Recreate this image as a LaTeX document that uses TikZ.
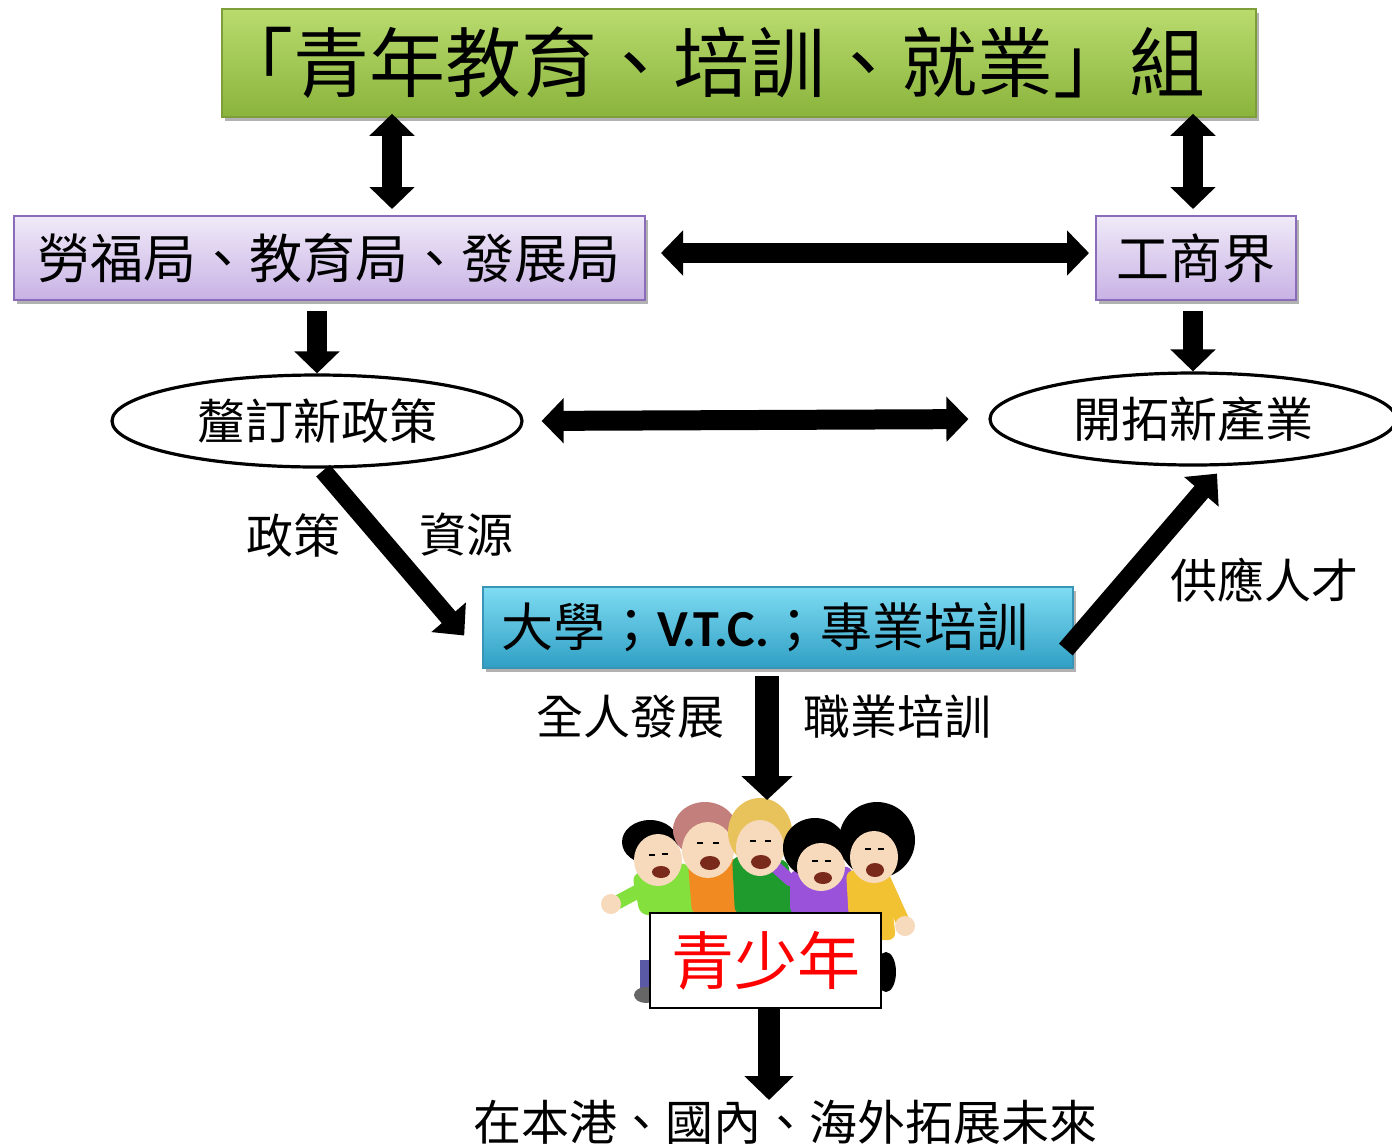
\documentclass[tikz,border=0pt]{standalone}
\usepackage{fontspec}
\setmainfont{Noto Sans CJK TC}
\newfontfamily\vtcfont{Carlito}
\usetikzlibrary{arrows.meta,shapes.geometric,shadows}
\definecolor{skin}{HTML}{F7D9BC}
\definecolor{mouthc}{HTML}{7A2A1A}
\definecolor{shirtA}{HTML}{84E03C}
\definecolor{shirtB}{HTML}{F28A22}
\definecolor{shirtC}{HTML}{1F9A2C}
\definecolor{shirtD}{HTML}{9A52DA}
\definecolor{shirtE}{HTML}{F2C232}
\definecolor{hairB}{HTML}{C27F7C}
\definecolor{hairC}{HTML}{E8C25A}
\definecolor{gtop}{HTML}{B9DB6E}
\definecolor{gbot}{HTML}{8AB43C}
\definecolor{gbord}{HTML}{7E9E3A}
\definecolor{ptop}{HTML}{F0EAF8}
\definecolor{pbot}{HTML}{C8B2E5}
\definecolor{pbord}{HTML}{8A6CB8}
\definecolor{ctop}{HTML}{7FDCF3}
\definecolor{cbot}{HTML}{2F9FC4}
\definecolor{cbord}{HTML}{3994B6}
\begin{document}
\begin{tikzpicture}[x=0.5pt,y=-0.5pt,
  fat/.style={line width=10pt,-{Triangle[width=22pt,length=11pt]}},
  fatdbl/.style={line width=10pt,{Triangle[width=22pt,length=11pt]}-{Triangle[width=22pt,length=11pt]}},
  shade/.style={drop shadow={shadow xshift=1.5pt,shadow yshift=-2pt,opacity=0.3,fill=black}},
  greenbox/.style={rectangle,draw=gbord,line width=0.8pt,top color=gtop,bottom color=gbot,shade,inner sep=0pt},
  purplebox/.style={rectangle,draw=pbord,line width=1pt,top color=ptop,bottom color=pbot,shade,inner sep=0pt},
  cyanbox/.style={rectangle,draw=cbord,line width=0.8pt,top color=ctop,bottom color=cbot,shade,inner sep=0pt},
  oval/.style={ellipse,draw=black,line width=1.6pt,fill=white,inner sep=0pt},
  lbl/.style={font=\fontsize{23.5pt}{26pt}\selectfont,inner sep=0pt}]
\useasboundingbox (0,0) rectangle (1392,1147);
\fill[white] (0,0) rectangle (1392,1147);

% ----- main nodes -----
\node[greenbox,minimum width=517pt,minimum height=54pt,font=\fontsize{38pt}{40pt}\selectfont] (top) at (739,63) {\hspace*{-28pt}「青年教育、培訓、就業」組};
\node[purplebox,minimum width=315.5pt,minimum height=42pt,font=\fontsize{26.5pt}{30pt}\selectfont] (lb) at (329.5,258) {勞福局、教育局、發展局};
\node[purplebox,minimum width=100pt,minimum height=42pt,font=\fontsize{26.5pt}{30pt}\selectfont] (rb) at (1196,258) {工商界};
\node[oval,minimum width=205pt,minimum height=46pt,font=\fontsize{24pt}{28pt}\selectfont] (le) at (317,421) {釐訂新政策};
\node[oval,minimum width=203pt,minimum height=46pt,font=\fontsize{24pt}{28pt}\selectfont] (re) at (1193,419) {開拓新產業};
\node[cyanbox,minimum width=295pt,minimum height=40.5pt,font=\fontsize{26pt}{30pt}\selectfont] (vtc) at (778,627.5) {\hspace*{-13pt}大學；{\vtcfont\bfseries V.T.C.}；專業培訓};

% ----- children picture -----
% bodies
\fill[shirtA,rounded corners=4pt] (632,874) -- (688,862) -- (700,915) -- (640,915) -- cycle;
\draw[shirtA,line width=7pt,line cap=round] (648,886) -- (618,902);
\fill[skin] (611,904) circle (5pt);
\fill[shirtB,rounded corners=4pt] (688,862) -- (738,858) -- (740,915) -- (692,915) -- cycle;
\fill[shirtC,rounded corners=4pt] (732,856) -- (788,860) -- (795,915) -- (735,915) -- cycle;
\fill[shirtD,rounded corners=4pt] (790,870) -- (852,866) -- (854,915) -- (790,915) -- cycle;
\draw[shirtD,line width=6pt,line cap=round] (790,880) -- (770,862);
\fill[shirtE,rounded corners=4pt] (846,870) -- (888,872) -- (896,940) -- (850,940) -- cycle;
\draw[shirtE,line width=7pt,line cap=round] (884,880) -- (902,920);
\fill[skin] (905,926) circle (5pt);
% legs / shoes
\fill[gray!70!blue] (640,960) rectangle (652,990);
\fill[gray!80!black] (646,995) ellipse (6pt and 4pt);
\fill[black] (886,972) ellipse (5pt and 10pt);
% heads
\fill[black] (650,842) ellipse (14pt and 11pt);
\fill[skin] (658,860) ellipse (12pt and 13pt);
\fill[hairB] (705,830) ellipse (16pt and 14pt);
\fill[skin] (708,850) ellipse (13pt and 14pt);
\fill[hairC] (760,832) ellipse (16pt and 17pt);
\fill[skin] (760,848) ellipse (12pt and 14pt);
\fill[black] (815,848) ellipse (16pt and 15pt);
\fill[skin] (821,867) ellipse (12pt and 12pt);
\fill[black] (877,840) ellipse (19pt and 19pt);
\fill[skin] (874,857) ellipse (12pt and 13pt);
% mouths
\fill[mouthc] (661,872) ellipse (4.5pt and 3pt);
\fill[mouthc] (710,863) ellipse (5pt and 3.5pt);
\fill[mouthc] (761,862) ellipse (5pt and 3.5pt);
\fill[mouthc] (823,878) ellipse (4.5pt and 3pt);
\fill[mouthc] (875,870) ellipse (4.5pt and 3.5pt);
% eyes
\foreach \ex/\ey in {652/855,665/854,700/843,716/843,753/841,768/841,815/861,828/861,868/849,881/849}
  \draw[black,line width=0.7pt] (\ex-3,\ey) -- (\ex+3,\ey);

\node[rectangle,draw=black,line width=1pt,fill=white,minimum width=115.5pt,minimum height=47.5pt,inner sep=0pt,text=red,font=\fontsize{31.5pt}{34pt}\selectfont] (qsn) at (765.5,960.5) {青少年};
\node[inner sep=0pt,font=\fontsize{24pt}{28pt}\selectfont] (bt) at (785,1122) {在本港、國內、海外拓展未來};

% ----- labels -----
\node[lbl] (l1) at (293,535) {政策};
\node[lbl] (l2) at (466,535) {資源};
\node[lbl] (l3) at (1264,580) {供應人才};
\node[lbl] (l4) at (630,717) {全人發展};
\node[lbl] (l5) at (897,717) {職業培訓};

% ----- helper coordinates -----
\coordinate (a1) at (392,0);
\coordinate (a2) at (1193,0);
\coordinate (a3) at (767,0);
\coordinate (h1) at (0,253);
\coordinate (kidtop) at (767,800);
\coordinate (a4) at (769,0);
\coordinate (endtip) at (769,1100);

% ----- arrows -----
\draw[fatdbl] ([yshift=2pt]top.south -| a1) -- ([yshift=3pt]lb.north -| a1);
\draw[fatdbl] ([yshift=2pt]top.south -| a2) -- ([yshift=3pt]rb.north -| a2);
\draw[fatdbl,shorten <=7.5pt,shorten >=3pt] (lb.east |- h1) -- (rb.west |- h1);
\draw[fat,shorten <=5pt] (lb.south -| le.north) -- (le.north);
\draw[fat,shorten <=5pt] (rb.south -| re.north) -- (re.north);
\draw[fatdbl,shorten <=9pt,shorten >=10pt] (le.east) -- (re.west);
\draw[line width=9pt,-{Triangle[width=22pt,length=12pt]}] ([shift={(6,2)}]le.south) -- ([shift={(-18,8)}]vtc.west);
\draw[line width=9pt,-{Triangle[width=22pt,length=12pt]}] ([shift={(-8,22)}]vtc.east) -- ([shift={(24,7)}]re.south);
\draw[line width=12pt,-{Triangle[width=25pt,length=12pt]}] ([yshift=-3.5pt]vtc.south -| a3) -- (kidtop);
\draw[line width=11pt,-{Triangle[width=24pt,length=12pt]}] (qsn.south -| a4) -- (endtip);
\end{tikzpicture}
\end{document}
